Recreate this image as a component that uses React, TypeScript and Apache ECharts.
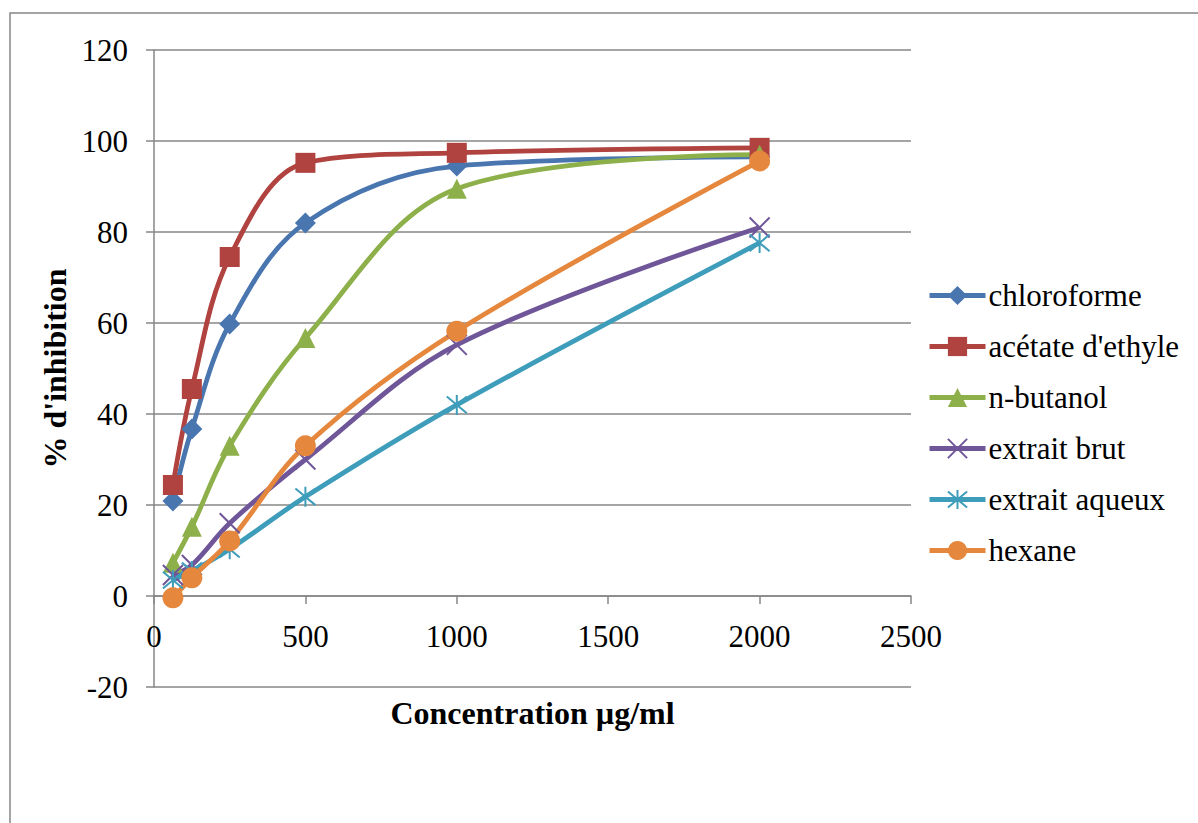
import React, { useEffect, useRef } from "react";
import * as echarts from "echarts";

const concentrations = [62.5, 125, 250, 500, 1000, 2000];
const seriesNames = ["chloroforme", "acétate d'ethyle", "n-butanol", "extrait brut", "extrait aqueux", "hexane"];
const chloroforme = [20.9, 36.7, 59.8, 82.0, 94.5, 96.5];
const acetate = [24.4, 45.5, 74.5, 95.2, 97.4, 98.5];
const butanol = [7.3, 15.2, 33.0, 56.7, 89.5, 97.0];
const brut = [4.6, 6.8, 16.0, 30.0, 55.2, 81.0];
const aqueux = [3.5, 5.5, 10.3, 21.8, 42.0, 77.6];
const hexane = [-0.4, 4.0, 12.1, 33.0, 58.2, 95.6];
const xTicks = { min: 0, max: 2500, interval: 500 };
const yTicks = { min: -20, max: 120, interval: 20 };

const colors = ["#4A76B0", "#B0423F", "#8DB04A", "#6F5699", "#3E9DBA", "#E5873C"];
const symbols = [
  "diamond",
  "rect",
  "triangle",
  "path://M0,0L10,10M10,0L0,10",
  "path://M0,1L10,11M10,1L0,11M5,0L5,12",
  "circle",
];
const symbolSizes = [21, 20, 20, 20, 20, 21];

const FONT = "Liberation Serif";

export default function App() {
  const ref = useRef<HTMLDivElement>(null);
  useEffect(() => {
    document.body.style.margin = "0";
    if (!ref.current) return;
    const chart = echarts.init(ref.current, undefined, { renderer: "svg" });
    const all = [chloroforme, acetate, butanol, brut, aqueux, hexane];
    const series = all.map((vals, i) => {
      const stroke = i === 3 || i === 4;
      return {
        name: seriesNames[i],
        type: "line",
        smooth: 0.35,
        data: vals.map((v, j) => [concentrations[j], v]),
        symbol: symbols[i],
        symbolSize: symbolSizes[i],
        showAllSymbol: true,
        lineStyle: { color: colors[i], width: 4.8 },
        itemStyle: stroke
          ? { color: colors[i], borderColor: colors[i], borderWidth: 2 }
          : { color: colors[i], borderWidth: 0 },
        emphasis: { disabled: true },
      };
    });
    chart.setOption({
      animation: false,
      backgroundColor: "#ffffff",
      textStyle: { fontFamily: FONT },
      grid: { left: 154, top: 50, width: 757, height: 637, containLabel: false },
      legend: {
        orient: "vertical",
        left: 927,
        top: 280,
        padding: 0,
        itemWidth: 56,
        itemHeight: 24,
        itemGap: 20,
        lineStyle: { width: 5 },
        textStyle: { fontFamily: FONT, fontSize: 31, color: "#000", padding: [0, 0, 0, -2] },
        data: seriesNames,
      },
      xAxis: {
        type: "value",
        min: xTicks.min,
        max: xTicks.max,
        interval: xTicks.interval,
        name: "Concentration µg/ml",
        nameLocation: "middle",
        nameGap: 10,
        nameTextStyle: { fontFamily: FONT, fontSize: 32, fontWeight: "bold", color: "#000", verticalAlign: "top" },
        axisLine: { show: true, onZero: true, lineStyle: { color: "#878787", width: 1.5 } },
        axisTick: { show: true, length: 8, lineStyle: { color: "#878787", width: 1.5 } },
        axisLabel: {
          fontFamily: FONT,
          fontSize: 31,
          color: "#000",
          margin: -66,
          formatter: (v: number) => String(v),
        },
        splitLine: { show: false },
      },
      yAxis: {
        type: "value",
        min: yTicks.min,
        max: yTicks.max,
        interval: yTicks.interval,
        name: "% d'inhibition",
        nameLocation: "middle",
        nameGap: 76,
        nameTextStyle: { fontFamily: FONT, fontSize: 32, fontWeight: "bold", color: "#000" },
        axisLine: { show: true, onZero: false, lineStyle: { color: "#878787", width: 1.5 } },
        axisTick: { show: true, length: 8, lineStyle: { color: "#878787", width: 1.5 } },
        axisLabel: { fontFamily: FONT, fontSize: 31, color: "#000", margin: 26 },
        splitLine: { show: true, lineStyle: { color: "#878787", width: 1.5 } },
      },
      graphic: [
        {
          type: "rect",
          shape: { x: 10, y: 13, width: 1300, height: 900 },
          style: { fill: "none", stroke: "#878787", lineWidth: 1.5 },
          silent: true,
          z: -10,
        },
      ],
      series,
    });
    return () => chart.dispose();
  }, []);
  return <div ref={ref} style={{ width: 1198, height: 823 }} />;
}
